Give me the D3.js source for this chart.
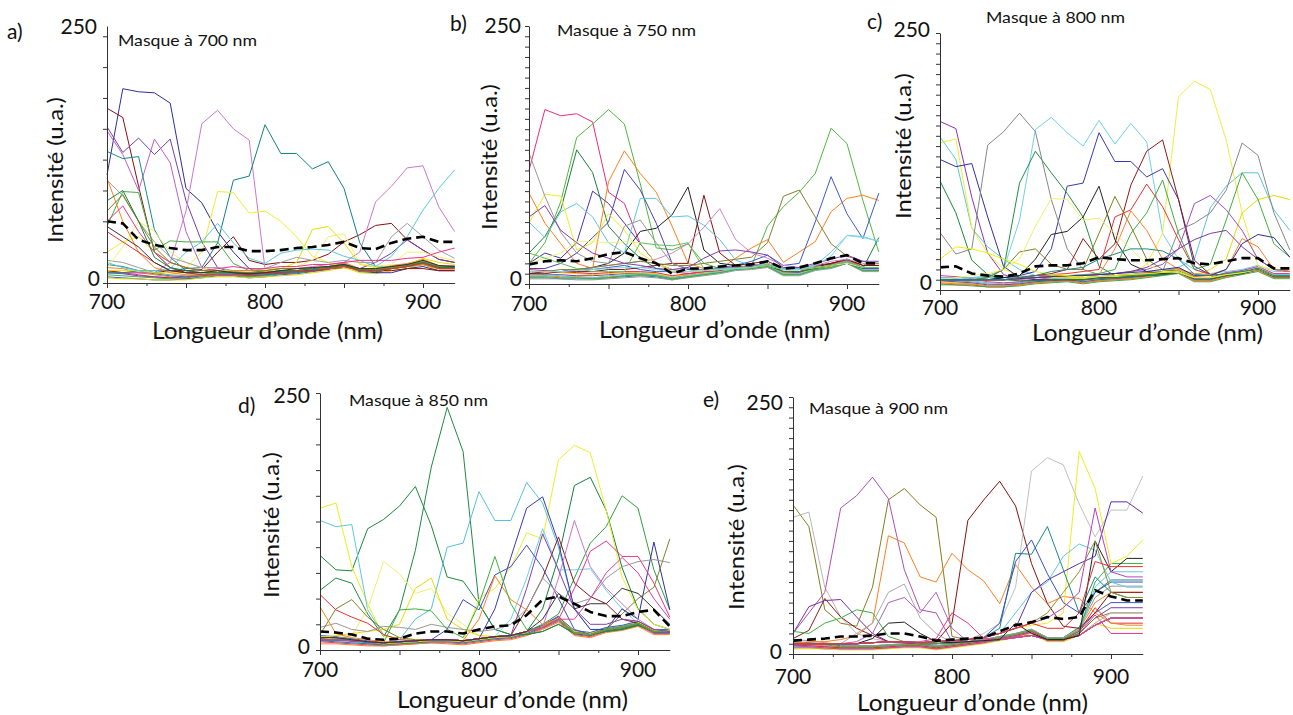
<!DOCTYPE html>
<html><head><meta charset="utf-8">
<script src="https://cdn.jsdelivr.net/npm/d3@7"></script>
<style>
body{margin:0;background:#fff}
text{font-family:Lato,"Open Sans","Noto Sans",sans-serif;fill:#111}
</style>
</head><body>
<svg id="chart" width="1293" height="715"></svg>
<script>
// ---------------- DATA ----------------
const wavelengths = [700,710,720,730,740,750,760,770,780,790,800,810,820,830,840,850,860,870,880,890,900,910,920];
const xTickLabels = [700,800,900];
const yTickLabels = [0,250];
const panelLetters = ["a)","b)","c)","d)","e)"];
const maskLabels = ["Masque à 700 nm","Masque à 750 nm","Masque à 800 nm","Masque à 850 nm","Masque à 900 nm"];
const xTitle = "Longueur d\u2019onde (nm)";
const yTitle = "Intensité (u.a.)";

// Panel a : mask 700 nm
const spectraA = [
[105,189,186,185,175,92,78,50,30,14,10,10,12,12,14,16,14,10,10,14,16,12,12],
[170,161,94,30,15,10,10,12,10,8,10,12,12,12,14,15,14,12,12,14,14,12,12],
[12,10,10,10,12,12,13,30,45,22,18,20,20,22,28,40,47,56,58,42,32,23,20],
[152,127,141,125,140,80,40,15,10,10,10,12,12,14,14,16,14,20,29,42,32,23,20],
[148,125,90,140,117,50,15,12,10,10,10,12,12,14,14,16,12,12,14,16,18,14,14],
[10,10,10,10,20,70,155,168,150,139,14,14,14,16,18,20,30,79,94,112,114,74,50],
[128,121,123,52,25,12,10,10,10,9,10,11,12,13,14,16,12,12,14,16,18,14,14],
[10,10,12,12,12,14,15,39,100,104,154,126,126,111,118,92,39,16,15,16,18,14,14],
[30,40,45,30,20,15,30,89,88,68,70,60,45,26,20,15,12,12,14,16,18,14,14],
[12,12,12,10,10,10,10,12,12,12,14,14,20,52,55,39,18,15,15,18,24,20,18],
[15,35,60,50,30,20,15,12,12,12,14,14,16,22,45,48,19,16,18,30,30,25,22],
[20,15,12,12,14,30,40,58,39,24,19,29,32,33,32,26,22,16,26,45,71,92,110],
[100,85,60,40,25,20,15,15,12,12,14,20,25,22,20,22,20,20,45,58,45,32,24],
[55,89,88,32,41,40,40,40,19,12,12,14,14,14,16,18,14,14,16,18,20,16,16],
[102,60,30,15,10,8,8,10,12,12,11,12,12,14,14,16,12,12,14,16,18,14,14],
[60,75,50,30,20,15,12,14,16,14,14,16,16,18,18,20,22,22,22,24,25,30,34],
[70,86,60,35,20,15,12,12,11,10,12,14,14,15,16,18,13,13,15,18,20,16,16],
[80,90,60,25,15,12,10,10,10,9,10,12,12,14,15,17,12,12,14,16,20,15,15],
[50,40,30,20,12,10,8,8,8,8,9,10,11,12,14,16,12,12,14,16,19,14,14],
[55,45,35,20,12,10,10,12,10,9,10,12,14,15,16,18,14,14,16,18,22,17,16]
];
const floorA = [
[8,7,6,5,4,4,6,8,8,6,7,9,10,12,14,18,12,11,15,17,21,15,15],
[12,10,8,6,5,5,7,9,9,7,8,10,11,13,15,19,13,12,16,18,22,16,16],
[6,5,4,3,3,4,5,7,7,5,6,8,9,11,13,17,11,10,14,16,20,14,14],
[15,14,10,8,6,6,8,10,10,8,9,11,12,14,16,20,14,13,17,19,23,17,17],
[10,9,7,6,5,6,8,10,9,7,8,10,11,13,15,18,12,12,15,17,20,15,15],
[18,16,12,9,7,6,7,9,9,7,8,9,10,12,14,17,11,11,14,16,19,14,14],
[5,4,4,3,3,3,5,6,6,5,6,7,8,10,12,15,10,9,12,14,18,12,12],
[22,20,15,10,8,7,8,9,9,8,9,11,12,13,15,19,13,12,16,18,22,16,17]
];
const meanA = [60,58,42,37,34,32,32,35,35,31,31,32,34,35,37,40,34,33,39,43,45,40,40];

// Panel b : mask 750 nm
const spectraB = [
[110,169,163,165,157,89,78,39,20,12,10,12,14,15,16,18,12,12,16,18,22,16,16],
[20,40,80,142,155,169,155,97,35,33,39,20,15,16,18,56,75,89,107,151,136,81,31],
[30,46,72,130,108,56,39,25,15,12,12,13,14,15,16,18,12,12,15,18,20,15,45],
[88,59,39,20,15,99,129,107,89,56,20,15,14,25,35,43,21,31,41,70,83,86,81],
[12,12,12,14,14,16,18,14,12,12,12,14,16,18,22,28,18,20,60,104,68,44,88],
[20,30,25,40,90,78,59,39,20,14,12,13,14,15,16,20,14,14,16,18,22,16,16],
[15,15,20,30,45,60,111,91,59,20,14,14,15,16,18,20,14,14,16,18,20,16,16],
[10,12,12,14,16,20,30,51,54,67,94,33,20,18,16,18,14,14,16,20,24,18,18],
[10,10,12,12,12,14,14,16,18,20,20,86,30,18,20,22,15,15,18,20,24,18,18],
[12,12,12,14,16,18,20,22,24,30,39,55,73,43,30,25,18,16,18,22,24,20,20],
[60,45,70,78,65,40,30,83,83,65,66,57,43,23,18,20,15,15,18,31,47,46,41],
[59,87,85,33,40,68,52,30,20,14,12,13,14,15,16,18,14,14,16,18,22,16,16],
[12,12,14,14,16,18,20,22,20,18,18,20,22,24,26,40,85,91,65,39,27,22,20],
[127,85,50,30,22,20,56,62,40,20,15,14,15,16,18,20,14,14,16,18,22,16,16],
[65,76,52,40,30,25,20,18,15,14,16,25,32,33,31,28,16,16,20,24,28,22,22],
[20,25,30,41,41,40,41,40,20,12,12,13,14,15,16,18,14,14,16,18,20,16,16],
[30,25,20,15,12,12,12,40,38,37,40,15,14,15,16,18,14,14,16,18,22,16,16],
[12,12,12,13,14,15,16,16,14,12,12,13,14,15,16,20,14,14,18,27,47,45,42]
];
const floorB = [
[8,8,7,7,6,7,8,9,8,5,8,10,12,15,16,18,10,10,15,17,22,14,14],
[10,9,9,8,8,9,10,10,9,6,9,11,13,16,17,19,11,11,16,18,23,15,15],
[6,6,5,5,5,6,7,8,7,4,7,9,11,14,15,17,9,9,14,16,21,13,13],
[12,12,11,10,9,10,11,11,10,7,9,11,12,15,16,19,11,10,15,17,22,14,14],
[5,5,5,4,4,5,6,7,6,4,6,8,10,13,14,16,8,8,13,15,20,12,12],
[14,13,12,11,10,11,12,12,11,8,10,12,13,16,17,20,12,12,17,19,24,16,16],
[9,9,8,6,6,8,9,10,9,6,8,10,12,14,16,18,10,10,14,16,21,14,14],
[7,7,6,6,5,6,8,9,8,5,7,9,11,14,15,17,9,9,14,16,20,13,13]
];
const meanB = [19,22,23,22,25,29,31,25,20,10,15,15,17,18,19,22,15,16,20,25,28,20,20];

// Panel c : mask 800 nm
const spectraC = [
[164,157,90,36,15,10,9,10,10,10,12,12,13,14,15,17,11,11,14,16,20,13,13],
[149,127,60,42,30,20,14,12,12,12,13,13,14,15,16,18,12,12,15,17,21,14,14],
[10,10,12,14,20,68,156,168,153,140,165,142,162,144,55,30,20,16,18,20,24,18,18],
[12,12,12,12,12,13,14,14,13,12,13,14,15,16,18,22,30,80,101,114,114,78,58],
[143,147,60,36,20,14,12,12,12,11,12,13,14,15,16,18,12,12,15,17,21,14,14],
[10,10,10,10,10,11,12,13,12,11,12,14,16,25,55,188,203,195,146,75,23,20,20],
[10,10,10,10,10,11,12,13,12,11,12,14,15,16,18,20,14,20,30,75,88,92,88],
[127,120,123,71,23,12,10,10,10,10,12,12,13,14,15,17,11,11,14,16,20,13,13],
[10,10,10,10,12,14,18,40,101,104,153,125,125,110,118,88,23,15,15,17,20,14,14],
[106,75,29,15,10,9,9,10,10,10,11,12,13,14,15,17,11,11,14,16,20,13,13],
[10,10,10,12,20,104,135,114,94,71,23,14,14,15,16,18,12,12,15,17,21,14,14],
[56,35,40,141,154,172,154,88,40,20,15,14,15,16,18,58,65,75,97,143,131,75,39],
[10,10,10,10,10,12,14,16,20,50,30,45,102,135,146,88,29,15,15,17,20,14,14],
[10,10,10,10,10,12,14,15,16,18,20,71,78,103,81,49,20,15,15,17,20,14,14],
[10,10,10,10,12,14,30,54,57,71,101,49,25,18,16,18,12,12,15,17,21,14,14],
[10,10,10,12,20,37,40,25,20,20,55,91,62,30,20,18,12,12,15,17,21,14,14],
[10,10,10,10,10,11,12,13,14,15,16,20,55,75,107,55,20,25,68,114,88,45,32],
[10,10,10,10,10,11,12,13,14,14,15,16,18,20,25,40,84,92,78,58,30,20,18],
[10,10,10,10,10,11,12,13,14,14,15,16,18,22,30,40,49,55,58,42,30,20,18],
[10,10,10,10,10,11,12,13,14,14,15,40,77,58,30,20,16,15,20,50,42,20,18],
[10,12,14,16,20,30,62,89,88,68,70,55,40,25,18,17,12,12,15,17,20,14,14],
[10,10,10,10,10,11,12,13,14,14,15,16,17,18,20,22,14,14,20,45,54,51,32],
[30,42,40,36,30,25,18,15,14,12,13,14,15,16,17,18,12,12,15,17,20,14,14],
[10,10,10,10,10,12,14,18,20,22,30,35,40,40,38,30,15,14,16,18,20,14,14]
];
const floorC = [
[8,7,6,4,4,6,8,9,10,8,10,11,12,14,16,18,10,10,14,17,20,13,13],
[10,9,8,6,5,7,9,10,11,9,11,12,13,15,17,19,11,11,15,18,21,14,14],
[6,5,5,3,3,5,7,8,9,7,9,10,11,13,15,17,9,9,13,16,19,12,12],
[12,11,9,7,6,8,10,11,12,10,12,13,14,16,18,20,12,12,16,19,22,15,15],
[5,5,4,3,3,4,6,7,8,6,8,9,10,12,14,16,8,8,12,15,18,11,11],
[14,13,11,8,7,8,10,12,12,10,12,14,15,17,18,21,13,12,17,19,23,16,16],
[9,8,7,5,5,6,8,9,10,8,10,11,12,14,16,18,10,10,14,17,20,13,13],
[7,6,6,4,4,5,7,8,9,7,9,10,11,13,15,17,9,9,13,16,19,12,12]
];
const meanC = [22,23,16,14,13,16,23,24,24,26,32,30,29,29,30,31,26,25,28,31,31,21,21];

// Panel d : mask 850 nm
const spectraD = [
[92,78,77,118,127,140,159,121,71,67,45,20,15,15,18,25,16,15,18,20,24,18,18],
[58,70,65,35,13,39,97,178,236,193,45,20,15,15,18,25,16,15,18,20,24,18,18],
[12,12,10,8,7,8,9,10,10,9,11,13,14,18,40,90,160,168,136,80,40,25,20],
[12,12,10,8,7,8,9,10,10,9,11,13,14,18,25,35,70,104,120,150,138,78,39],
[138,143,81,45,13,12,10,10,10,9,11,13,14,18,22,30,17,15,20,22,26,18,18],
[10,10,9,8,7,8,9,10,10,9,50,60,80,114,108,185,199,192,136,71,39,25,20],
[126,120,122,39,15,10,9,10,10,9,11,13,14,18,22,30,17,15,20,22,26,18,18],
[10,10,9,8,7,10,30,40,100,104,154,126,126,163,143,100,40,20,20,22,26,18,18],
[10,10,9,8,7,8,9,10,10,9,11,13,30,70,118,78,78,79,58,40,26,18,18],
[10,12,14,40,86,74,55,60,36,25,14,13,14,18,22,30,17,15,20,22,26,18,18],
[12,14,16,18,20,25,60,70,30,20,14,13,14,18,22,30,17,15,20,22,26,18,18],
[10,10,9,8,7,8,9,10,10,9,11,40,90,138,149,104,40,20,20,22,26,18,18],
[10,10,9,8,7,8,9,10,20,49,39,73,81,102,80,50,20,15,20,22,26,18,18],
[10,10,9,8,7,8,9,10,10,9,11,13,14,18,22,30,17,15,20,40,30,105,39],
[10,10,9,8,7,8,9,10,10,9,11,13,14,18,22,30,60,96,106,91,91,65,32],
[10,10,9,8,7,8,9,10,10,9,11,13,14,40,70,110,65,52,45,30,26,18,18],
[22,26,20,18,23,22,20,25,22,20,18,20,25,40,70,55,45,50,70,81,86,88,85],
[15,40,49,32,20,12,10,10,10,9,11,13,14,18,22,30,17,15,20,35,50,61,108],
[54,39,32,26,15,10,9,10,10,9,11,13,14,18,22,30,17,15,20,22,26,18,18],
[42,16,12,10,8,8,9,10,10,9,30,72,49,39,25,30,17,15,20,22,26,18,18],
[12,12,10,8,7,39,40,38,20,12,45,91,45,20,22,30,17,15,20,22,26,18,18],
[10,10,9,8,7,8,9,10,10,9,11,13,14,18,22,70,126,81,60,45,30,20,18],
[10,10,9,8,7,8,9,10,10,9,11,13,14,60,113,78,40,25,25,30,28,20,18],
[10,10,9,8,7,8,9,10,10,9,11,13,14,18,22,30,30,50,75,90,75,50,30],
[12,12,10,8,7,8,9,10,10,9,11,13,14,18,30,55,40,45,45,60,55,40,25]
];
const floorD = [
[10,9,8,6,5,6,7,8,8,7,9,11,12,16,22,30,17,15,20,22,26,18,18],
[12,11,10,8,6,7,8,9,9,8,10,12,13,17,23,31,18,16,21,23,27,19,19],
[8,7,6,5,4,5,6,7,7,6,8,10,11,15,21,28,15,13,18,20,24,16,16],
[14,13,11,9,7,8,9,10,10,9,11,13,14,18,24,32,19,17,22,24,28,20,20],
[6,6,5,4,4,5,6,7,6,5,7,9,10,14,20,27,14,12,17,19,23,15,15],
[11,10,9,7,6,7,8,9,9,8,10,12,13,17,24,33,16,14,19,21,25,17,17],
[9,8,7,6,5,6,7,8,8,7,9,11,12,16,22,29,16,14,19,21,25,17,17],
[13,12,10,8,6,7,8,9,9,8,10,12,13,17,23,31,18,16,20,22,27,19,19]
];
const meanD = [18,17,15,11,10,11,16,18,18,16,20,23,24,34,49,52,45,37,33,33,37,39,23];

// Panel e : mask 900 nm
const spectraE = [
[145,124,43,30,27,65,150,161,145,133,17,14,13,14,16,18,14,14,20,35,40,40,40],
[133,138,65,36,20,15,12,11,10,10,11,12,13,14,16,18,14,14,18,30,40,40,40],
[20,40,60,142,154,172,151,82,43,40,12,12,13,14,16,18,14,14,18,28,35,35,35],
[10,12,12,14,18,30,115,108,75,70,98,82,71,49,87,65,49,56,54,40,30,28,28],
[15,23,54,36,25,18,12,11,10,10,11,12,13,14,16,18,14,14,18,28,35,35,35],
[10,10,10,10,10,11,12,12,11,12,30,130,150,168,144,88,49,27,25,40,60,60,60],
[10,10,10,10,10,11,12,12,11,12,13,14,20,30,65,178,191,184,146,114,140,140,173],
[10,10,10,10,10,11,12,12,11,12,13,14,16,20,25,28,30,40,197,161,88,95,111],
[10,10,10,10,10,11,12,12,11,12,13,14,16,25,98,97,124,82,40,75,60,55,55],
[10,10,10,10,10,11,12,12,11,12,13,14,16,30,90,111,78,50,40,60,70,70,70],
[10,10,10,10,10,11,12,12,11,12,13,14,16,20,40,60,70,95,107,101,70,65,65],
[20,46,52,53,36,20,12,11,10,10,11,12,13,14,16,18,14,14,18,28,35,35,35],
[22,20,30,35,43,40,17,12,10,10,11,12,13,14,16,18,14,14,18,28,35,35,35],
[10,10,10,10,20,30,60,68,35,20,11,12,13,14,16,18,14,14,18,28,35,35,35],
[10,10,10,10,12,20,50,55,40,60,25,12,13,14,16,18,14,14,18,28,35,35,35],
[10,10,10,10,10,11,12,11,12,15,40,30,15,14,16,18,14,14,18,28,35,35,35],
[10,10,10,10,10,15,30,31,20,12,11,12,13,14,30,20,14,14,18,110,80,93,93],
[10,10,10,10,10,11,12,12,11,12,13,14,16,20,25,60,72,80,88,95,148,148,137],
[10,10,10,10,10,11,12,12,11,12,13,14,16,20,25,30,40,60,80,110,60,55,55],
[10,10,10,10,10,11,12,12,11,12,13,14,16,20,25,30,35,45,60,142,80,75,75],
[10,10,10,10,10,11,12,12,11,12,13,14,16,20,25,30,25,25,40,90,85,85,85]
];
const floorE = [
[8,8,7,6,6,6,7,8,8,6,8,10,12,15,18,22,14,14,22,40,50,50,50],
[10,9,8,7,7,7,8,9,9,7,9,11,13,16,19,23,15,15,24,50,60,60,60],
[6,6,5,5,5,5,6,7,7,5,7,9,11,14,17,21,13,13,20,35,45,45,45],
[12,11,10,8,8,8,9,10,10,8,10,12,14,17,20,24,16,16,26,60,72,72,72],
[5,5,5,4,4,4,5,6,6,4,6,8,10,13,16,20,12,12,18,30,25,25,25],
[14,13,11,9,8,8,9,10,10,8,10,12,14,17,20,24,16,16,25,55,66,66,66],
[9,8,7,6,6,6,7,8,8,6,8,10,12,15,18,22,14,14,22,45,30,30,30],
[7,7,6,5,5,5,6,7,7,5,7,9,11,14,17,21,13,13,21,65,80,80,80],
[11,10,9,7,7,7,8,9,9,7,9,11,13,16,19,23,15,15,23,70,88,88,88],
[8,7,6,5,5,5,6,7,7,5,7,9,11,14,17,21,13,13,20,38,20,20,20]
];
const meanE = [13,14,15,17,17,18,20,20,17,13,14,15,16,22,28,31,36,34,36,62,56,52,52];

// ---------------- STYLES ----------------
const colorsA = ["#2e2e9e","#8b1010","#8b1010","#7040b0","#c060c0","#cc77cc","#1a8a8a","#138383","#eeee30","#e8e000","#f0f070","#55ccdd","#a0a0a0","#40b040","#ff8020","#ee3388","#808020","#208040","#e03030","#333333"];
const colorsB = ["#ee2a7b","#50b840","#1a8040","#ff7f20","#3a5ad0","#4a35a8","#5040b0","#222222","#8b1010","#cc88cc","#60c8e0","#eeee20","#808030","#999999","#8040b0","#f0f080","#60c060","#80d8e8"];
const colorsC = ["#8a35b0","#5cc8dc","#70d0e8","#60c0d8","#eeee30","#eeee40","#e8d800","#3030a0","#3a3ab0","#1a8a3a","#209040","#888888","#8b1a1a","#f03030","#222222","#808020","#40b040","#a050c0","#7a3aa8","#ff8030","#f0f070","#303090","#f0f000","#1a8a8a"];
const colorsD = ["#1a8a3a","#208a40","#158040","#30a040","#eeee20","#eeee30","#60c8e0","#55c0dc","#70d0e8","#f0f070","#e8e000","#3a3ab0","#4050c0","#3030a0","#ee3388","#8b1a1a","#999999","#808030","#e83030","#ff8020","#40b040","#cc77cc","#8040b0","#e040a0","#333333"];
const colorsE = ["#808020","#b8b8b8","#b050b0","#ff8020","#8b1a1a","#8b1010","#c0c0c0","#eeee20","#1a8a8a","#3a50c0","#60c8e0","#7a30a8","#40b040","#aaaaaa","#b060c0","#ee3388","#222222","#5a30b0","#909030","#c040c0","#e83030"];
const floorColors = ["#3cb043","#ee3388","#3a5ad0","#ff8020","#7a3aa8","#1a8a8a","#e8d800","#999999","#e83030","#60c8e0"];

const layout = [
 {x0:107,x1:454.6,y0:283,y1:26,step:30, letter:[7,39], t250:[97,34], t0:[100,286], xlab:309, xt:[152,339], yt:[63,170], mask:[118,46]},
 {x0:529,x1:878.8,y0:284,y1:26,step:10, letter:[450,31], t250:[521,33], t0:[522,286], xlab:311, xt:[599,338], yt:[497,157], mask:[557,36]},
 {x0:940,x1:1289.8,y0:290,y1:33,step:10, letter:[867,29], t250:[930,37], t0:[932,290], xlab:315, xt:[1032,341], yt:[911,146], mask:[986,23]},
 {x0:320,x1:669.8,y0:650,y1:393,step:25, letter:[238,413], t250:[310,403], t0:[310,654], xlab:677, xt:[397,708], yt:[279,525], mask:[349,406]},
 {x0:793,x1:1142.8,y0:654,y1:397,step:10, letter:[703,407], t250:[783,410], t0:[782,659], xlab:684, xt:[857,711], yt:[744,537], mask:[809,414]}
];

const allSpectra = [spectraA,spectraB,spectraC,spectraD,spectraE];
const allFloors = [floorA,floorB,floorC,floorD,floorE];
const allMeans = [meanA,meanB,meanC,meanD,meanE];
const allColors = [colorsA,colorsB,colorsC,colorsD,colorsE];

const svg = d3.select("#chart");

layout.forEach((L, p) => {
  const g = svg.append("g");
  const x = d3.scaleLinear().domain([700,920]).range([L.x0, L.x1]);
  const y = d3.scaleLinear().domain([0,250]).range([L.y0, L.y1]);
  const line = d3.line().x((d,i)=>x(wavelengths[i])).y(d=>y(d));

  const lines = g.append("g").attr("fill","none").attr("stroke-width",1).attr("stroke-linejoin","round");
  allFloors[p].forEach((v,i)=>{
    lines.append("path").attr("d", line(v)).attr("stroke", floorColors[(i+p*3)%floorColors.length]);
  });
  allSpectra[p].forEach((v,i)=>{
    lines.append("path").attr("d", line(v)).attr("stroke", allColors[p][i]);
  });
  lines.append("path").attr("d", line(allMeans[p]))
    .attr("stroke","#000").attr("stroke-width",2.6).attr("stroke-dasharray","9,5");

  // y axis
  const yTicks = d3.range(0, 251, L.step);
  const ya = g.append("g").attr("transform",`translate(${L.x0},0)`)
    .call(d3.axisLeft(y).tickValues(yTicks).tickSize(4).tickSizeOuter(0).tickFormat(""));
  ya.select(".domain").attr("stroke","#333");
  ya.selectAll(".tick line").attr("stroke","#333");

  // x axis: major (50 nm) and minor (25 nm) ticks
  const xa = g.append("g").attr("transform",`translate(0,${L.y0})`)
    .call(d3.axisBottom(x).tickValues([700,750,800,850,900]).tickSize(5).tickSizeOuter(0).tickFormat(""));
  xa.select(".domain").attr("stroke","#333");
  xa.selectAll(".tick line").attr("stroke","#333");
  const xm = g.append("g").attr("transform",`translate(0,${L.y0})`)
    .call(d3.axisBottom(x).tickValues([725,775,825,875]).tickSize(3).tickSizeOuter(0).tickFormat(""));
  xm.select(".domain").remove();
  xm.selectAll(".tick line").attr("stroke","#333");

  // tick labels
  xTickLabels.forEach(v=>{
    g.append("text").attr("x", x(v)).attr("y", L.xlab).attr("text-anchor","middle")
      .attr("font-size",21).text(v);
  });
  g.append("text").attr("x", L.t250[0]).attr("y", L.t250[1]).attr("text-anchor","end").attr("font-size",21).text(yTickLabels[1]);
  g.append("text").attr("x", L.t0[0]).attr("y", L.t0[1]).attr("text-anchor","end").attr("font-size",21).text(yTickLabels[0]);

  // titles
  g.append("text").attr("x", L.xt[0]).attr("y", L.xt[1]).attr("font-size",23)
    .attr("textLength",231).attr("lengthAdjust","spacingAndGlyphs").text(xTitle);
  g.append("text").attr("transform",`translate(${L.yt[0]},${L.yt[1]}) rotate(-90)`)
    .attr("text-anchor","middle").attr("font-size",22)
    .attr("textLength",146).attr("lengthAdjust","spacingAndGlyphs").text(yTitle);
  g.append("text").attr("x", L.mask[0]).attr("y", L.mask[1]).attr("font-size",15)
    .attr("textLength",139).attr("lengthAdjust","spacingAndGlyphs").text(maskLabels[p]);
  g.append("text").attr("x", L.letter[0]).attr("y", L.letter[1]).attr("font-size",21).text(panelLetters[p]);
});
</script>
</body></html>
